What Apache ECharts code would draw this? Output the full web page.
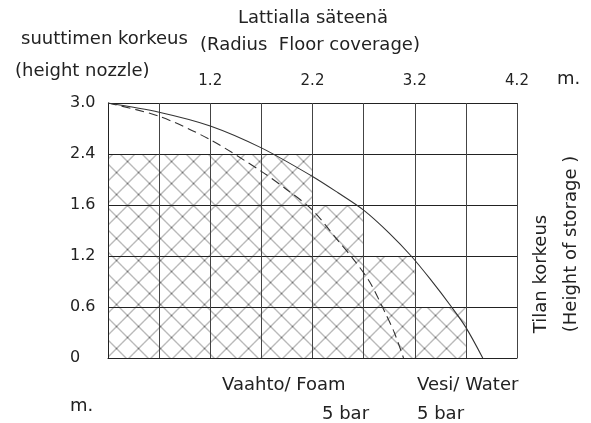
<!DOCTYPE html>
<html>
<head>
<meta charset="utf-8">
<script src="https://cdn.jsdelivr.net/npm/echarts@6/dist/echarts.min.js"></script>
<style>
  html, body { margin: 0; padding: 0; background: #fff; }
  #chart { width: 591px; height: 423px; }
</style>
</head>
<body>
<div id="chart"></div>
<script>
// axis positions are grid steps: x step = 0.5 m, y rows are uneven
const xTickLabels = ['', '', '1.2', '', '2.2', '', '3.2', '', '4.2']
const yTickLabels = ['0', '0.6', '1.2', '1.6', '2.4', '3.0']

// hatched coverage, one band per row
const hatchBottom = [0, 1, 2, 3]
const hatchTop = [1, 2, 3, 4]
const hatchEnd = [7, 6, 5, 4]

// Vesi / Water 5 bar (solid)
const waterX = [0, 1, 2, 3, 4, 4.5, 5, 5.5, 5.93, 6.3, 6.72, 7, 7.33]
const waterY = [5, 4.82, 4.55, 4.12, 3.56, 3.24, 2.9, 2.45, 2.0, 1.55, 1.0, 0.6, 0]

// Vaahto / Foam 5 bar (dashed)
const foamX = [0, 1, 2, 3, 3.5, 4, 4.5, 4.79, 5.12, 5.41, 5.6, 5.78]
const foamY = [5, 4.74, 4.28, 3.66, 3.3, 2.9, 2.3, 1.95, 1.49, 0.91, 0.5, 0]

function hatchTile () {
  let c = document.createElement('canvas')
  c.width = 22
  c.height = 22
  let ctx = c.getContext('2d')
  ctx.strokeStyle = '#747474'
  ctx.lineWidth = 1
  ctx.beginPath()
  ctx.moveTo(0, 0); ctx.lineTo(22, 22)
  ctx.moveTo(0, 22); ctx.lineTo(22, 0)
  ctx.stroke()
  return c
}
const tile = hatchTile()

const textStyle = { fill: '#222', font: '18px "DejaVu Sans", sans-serif' }

let myChart = echarts.init(document.getElementById('chart'))

let option = {
  animation: false,
  grid: { left: 108, top: 103, width: 409, height: 255 },
  xAxis: {
    type: 'value',
    position: 'top',
    min: 0,
    max: 8,
    interval: 1,
    z: 3,
    axisLine: { show: true, lineStyle: { color: '#222', width: 1 } },
    axisTick: { show: false },
    axisLabel: {
      formatter: v => xTickLabels[v],
      margin: 14,
      color: '#222',
      fontSize: 15,
      fontFamily: 'DejaVu Sans'
    },
    splitLine: { show: true, lineStyle: { color: '#444', width: 1 } }
  },
  yAxis: {
    type: 'value',
    min: 0,
    max: 5,
    interval: 1,
    z: 3,
    axisLine: { show: true, lineStyle: { color: '#222', width: 1 } },
    axisTick: { show: false },
    axisLabel: {
      formatter: v => yTickLabels[v],
      align: 'left',
      margin: 38,
      color: '#222',
      fontSize: 16,
      fontFamily: 'DejaVu Sans'
    },
    splitLine: { show: true, lineStyle: { color: '#222', width: 1 } }
  },
  graphic: [
    { type: 'text', left: 238, top: 9, style: Object.assign({ text: 'Lattialla säteenä' }, textStyle) },
    { type: 'text', left: 200, top: 36, style: Object.assign({ text: '(Radius  Floor coverage)' }, textStyle) },
    { type: 'text', left: 21, top: 30, style: Object.assign({ text: 'suuttimen korkeus' }, textStyle) },
    { type: 'text', left: 15, top: 62, style: Object.assign({ text: '(height nozzle)' }, textStyle) },
    { type: 'text', left: 557, top: 70, style: Object.assign({ text: 'm.' }, textStyle) },
    { type: 'text', left: 222, top: 376, style: Object.assign({ text: 'Vaahto/ Foam' }, textStyle) },
    { type: 'text', left: 322, top: 405, style: Object.assign({ text: '5 bar' }, textStyle) },
    { type: 'text', left: 417, top: 376, style: Object.assign({ text: 'Vesi/ Water' }, textStyle) },
    { type: 'text', left: 417, top: 405, style: Object.assign({ text: '5 bar' }, textStyle) },
    { type: 'text', left: 70, top: 397, style: Object.assign({ text: 'm.' }, textStyle) },
    {
      type: 'text', x: 541, y: 274, rotation: Math.PI / 2,
      style: Object.assign({ text: 'Tilan korkeus', align: 'center', verticalAlign: 'middle' }, textStyle)
    },
    {
      type: 'text', x: 571, y: 244, rotation: Math.PI / 2,
      style: Object.assign({ text: '(Height of storage )', align: 'center', verticalAlign: 'middle' }, textStyle)
    }
  ],
  series: [
    {
      name: 'coverage',
      type: 'custom',
      z: 1,
      data: hatchEnd.map((e, i) => [hatchBottom[i], hatchTop[i], e]),
      renderItem: function (params, api) {
        let p0 = api.coord([0, api.value(1)])
        let p1 = api.coord([api.value(2), api.value(0)])
        return {
          type: 'rect',
          shape: { x: p0[0], y: p0[1], width: p1[0] - p0[0], height: p1[1] - p0[1] },
          style: { fill: { image: tile, repeat: 'repeat', x: 17.5, y: 7.5 }, stroke: null }
        }
      }
    },
    {
      name: 'Vesi/ Water 5 bar',
      type: 'line',
      z: 4,
      smooth: 0.3,
      showSymbol: false,
      lineStyle: { color: '#333', width: 1.1 },
      data: waterX.map((x, i) => [x, waterY[i]])
    },
    {
      name: 'Vaahto/ Foam 5 bar',
      type: 'line',
      z: 4,
      smooth: 0.3,
      showSymbol: false,
      lineStyle: { color: '#333', width: 1.1, type: [9, 5] },
      data: foamX.map((x, i) => [x, foamY[i]])
    }
  ]
}
myChart.setOption(option, true)
</script>
</body>
</html>
